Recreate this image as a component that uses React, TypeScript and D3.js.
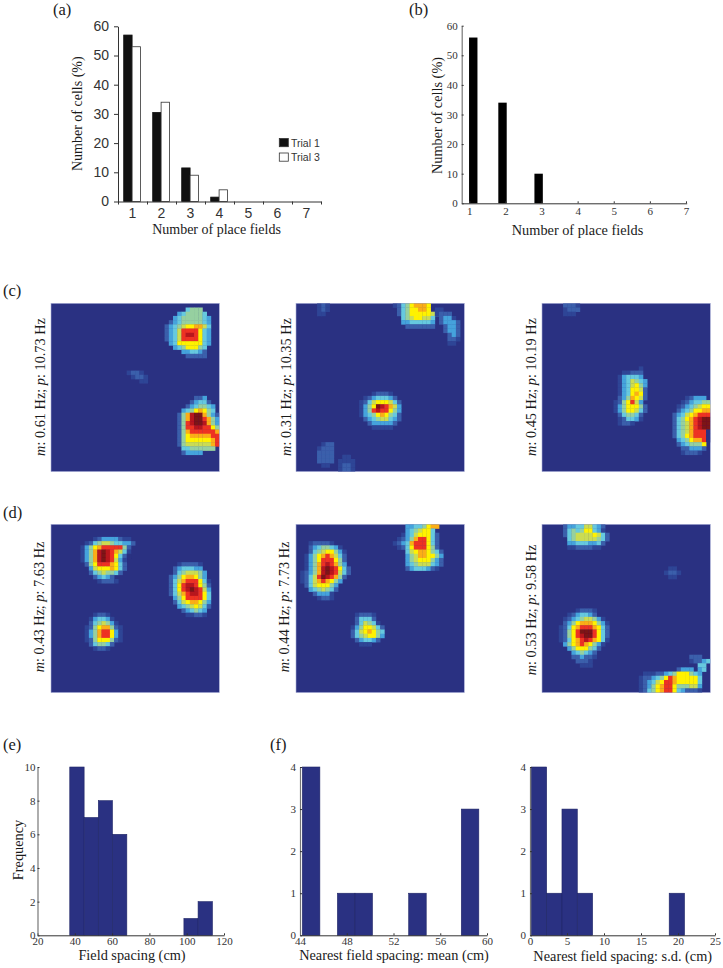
import { useEffect, useRef } from 'react';
import * as d3 from 'd3';

const SERIF = '"Liberation Serif", serif';
const SANS = '"Liberation Sans", sans-serif';
const NAVY = '#2a3182';

// (a) / (b)
const fieldCounts = ['1', '2', '3', '4', '5', '6', '7'];
const trial1 = [57, 30.5, 11.5, 1.5, 0, 0, 0];
const trial3 = [53, 34, 9, 4, 0, 0, 0];
const panelBPositions = [1.11, 1.92, 2.92];
const panelBValues = [56, 34, 10];

// (e) / (f) histograms: lower bin edges and counts
const spacingEdges = [37.3, 45, 52.6, 60.2, 67.9, 75.5, 83.2, 90.9, 98.5, 106.1, 113.8];
const spacingCounts = [10, 7, 8, 6, 0, 0, 0, 0, 1, 2];
const meanEdges = [44.2, 45.7, 47.2, 48.7, 50.2, 51.8, 53.3, 54.8, 56.3, 57.8, 59.3];
const meanCounts = [4, 0, 1, 1, 0, 0, 1, 0, 0, 3];
const sdEdges = [0.18, 2.25, 4.32, 6.39, 8.46, 10.53, 12.6, 14.67, 16.74, 18.81, 20.88];
const sdCounts = [4, 1, 3, 1, 0, 0, 0, 0, 0, 1];

// rate maps: [row, first column, one colour level per cell], 40 x 40 grid
type Run = [number, number, string];
const levels = '0123456789ab'.split('');
const levelColors = ['#2a3182', '#2f4596', '#3a5fab', '#45a3dc', '#66c9df', '#96d0a0', '#cbdc52', '#fff200', '#fbae17', '#ee3124', '#b8141c', '#7c1216'];

const mapC1: Run[] = [
  [1, 32, '4555'], [2, 30, '3455554'], [3, 29, '345555543'], [4, 28, '2345555543'],
  [5, 27, '23456778864'], [6, 27, '23469999743'], [7, 27, '23469aa9743'], [8, 27, '23469999743'],
  [9, 28, '3477777743'], [10, 29, '34577754'], [11, 31, '334432'], [12, 32, '22222'],
  [16, 18, '1221'], [17, 19, '1221'], [18, 21, '11'],
  [22, 34, '223'], [23, 33, '23442'], [24, 32, '2345543'], [25, 31, '34578754'],
  [26, 30, '258abb8532'], [27, 30, '258abb9853'], [28, 30, '259abba853'], [29, 30, '2599aa9975'],
  [30, 30, '2589999998'], [31, 30, '2578888899'], [32, 30, '2577777789'], [33, 30, '2566666689'],
  [34, 31, '44555555'], [35, 31, '23333'],
];
const mapC2: Run[] = [
  [0, 5, '121'], [1, 5, '121'], [2, 5, '11'],
  [0, 23, '124578887'], [1, 24, '24577887'], [2, 24, '2457777764'], [3, 25, '45677664'], [4, 25, '33444443'], [5, 26, '2222222'],
  [1, 33, '11'], [2, 33, '1222'], [3, 34, '2331'], [4, 34, '23332'], [5, 35, '2332'], [6, 35, '2332'], [7, 36, '232'], [8, 36, '221'], [9, 36, '11'],
  [21, 18, '12221'], [22, 16, '12344432'], [23, 15, '1246777642'], [24, 15, '1357ba9863'], [25, 15, '1359a99753'],
  [26, 15, '1345787542'], [27, 16, '234566432'], [28, 17, '2333332'], [29, 18, '11111'],
  [33, 6, '122'], [34, 5, '1222'], [35, 5, '2222'], [36, 5, '2222'], [37, 5, '2222'], [38, 6, '11'],
  [36, 11, '11'], [37, 10, '1111'], [38, 10, '1221'], [39, 10, '1221'],
];
const mapC3: Run[] = [
  [0, 5, '2221'], [1, 5, '1222'], [2, 5, '111'],
  [15, 23, '1'], [16, 19, '11222'], [17, 18, '134443'], [18, 18, '1346543'], [19, 18, '1346753'], [20, 18, '1347762'],
  [21, 18, '1347872'], [22, 18, '2358762'], [23, 17, '1257963'], [24, 17, '13577752'], [25, 17, '13577642'],
  [26, 18, '245542'], [27, 18, '124431'], [28, 18, '1221'],
  [22, 34, '12333'], [23, 33, '1234455'], [24, 32, '12345677'], [25, 32, '23457788'],
  [26, 31, '234678999'], [27, 31, '245789abb'], [28, 31, '245689abb'], [29, 31, '245689abb'],
  [30, 31, '245689990'], [31, 31, '245789990'], [32, 32, '34578890'], [33, 32, '2345557'], [34, 33, '223332'], [35, 33, '12221'],
];
const mapD1: Run[] = [
  [3, 10, '123333211'], [4, 8, '124566544332'], [5, 7, '135789999952'], [6, 7, '1358aba98641'], [7, 7, '1358aba97420'],
  [8, 7, '1358aba9631'], [9, 8, '2579998742'], [10, 9, '367778742'], [11, 9, '24565542'], [12, 10, '23432'], [13, 11, '12221'],
  [9, 30, '122221'], [10, 29, '2344433'], [11, 29, '24566653'], [12, 28, '235788753'], [13, 28, '2468999741'],
  [14, 28, '2479aa9752'], [15, 28, '2479aba963'], [16, 28, '24689aa974'], [17, 29, '357999974'], [18, 29, '246788753'],
  [19, 30, '34567642'], [20, 31, '234543'], [21, 32, '11221'],
  [21, 10, '1221'], [22, 9, '134431'], [23, 9, '2456531'], [24, 8, '125788521'], [25, 8, '135899731'], [26, 8, '135899731'],
  [27, 8, '125777521'], [28, 9, '245542'], [29, 10, '1221'],
];
const mapD2: Run[] = [
  [4, 3, '122221'], [5, 3, '23455431'], [6, 3, '245677531'], [7, 2, '1357898642'], [8, 2, '1357999752'], [9, 2, '13589a9853'],
  [10, 2, '1358aba9742'], [11, 1, '12358aba9642'], [12, 1, '12469ba9852'], [13, 1, '1246898753'], [14, 2, '24677753'],
  [15, 3, '3456542'], [16, 4, '23331'], [17, 5, '1221'],
  [0, 26, '33445788'], [1, 26, '3456774'], [2, 25, '134677742'], [3, 24, '1235899742'], [4, 23, '12348999742'],
  [5, 24, '1247999752'], [6, 26, '467887542'], [7, 26, '356887753'], [8, 26, '356777532'], [9, 26, '345666432'], [10, 26, '23444321'],
  [21, 14, '12221'], [22, 14, '24442'], [23, 14, '246541'], [24, 13, '13577642'], [25, 13, '24678754'], [26, 13, '24567753'],
  [27, 14, '234432'], [28, 15, '111'],
];
const mapD3: Run[] = [
  [0, 5, '2334466432'], [1, 5, '2454577431'], [2, 5, '24566667642'], [3, 6, '4566666542'], [4, 6, '334443342'], [5, 6, '11222211'],
  [10, 30, '11'], [11, 29, '1221'], [12, 30, '11'],
  [20, 8, '12221'], [21, 6, '1234432'], [22, 5, '1234566531'], [23, 5, '23578887531'], [24, 4, '124789998742'],
  [25, 4, '12579bbb9742'], [26, 4, '12579abb9742'], [27, 4, '124789a98741'], [28, 5, '3578987531'], [29, 6, '35777542'],
  [30, 7, '345432'], [31, 7, '223221'], [32, 8, '2221'], [33, 9, '111'],
  [31, 35, '222'], [32, 35, '122342'], [33, 37, '44'], [34, 32, '2333'], [34, 37, '34'],
  [35, 24, '11122345777543'], [36, 23, '122345798777774'], [37, 23, '123467998777774'], [38, 23, '123578997555663'], [39, 23, '124578997432221'],
];

const mapGrid = d3.range(40);

interface MapPanel {
  id: string;
  runs: Run[];
  left: number;
  top: number;
  labelX: number;
  labelY: number;
  m: string;
  p: string;
}

const mapPanels: MapPanel[] = [
  { id: 'c1', runs: mapC1, left: 51, top: 303.3, labelX: 44.5, labelY: 387, m: '0.61', p: '10.73' },
  { id: 'c2', runs: mapC2, left: 296, top: 303.3, labelX: 290.7, labelY: 387, m: '0.31', p: '10.35' },
  { id: 'c3', runs: mapC3, left: 542, top: 303.3, labelX: 535.7, labelY: 387, m: '0.45', p: '10.19' },
  { id: 'd1', runs: mapD1, left: 51, top: 524.3, labelX: 44, labelY: 607, m: '0.43', p: '7.63' },
  { id: 'd2', runs: mapD2, left: 296, top: 524.3, labelX: 289, labelY: 607, m: '0.44', p: '7.73' },
  { id: 'd3', runs: mapD3, left: 542, top: 524.3, labelX: 535.7, labelY: 610, m: '0.53', p: '9.58' },
];

const panelLetters: [string, number, number][] = [
  ['(a)', 53, 15], ['(b)', 409, 15], ['(c)', 3, 296], ['(d)', 3, 517.5], ['(e)', 3, 750], ['(f)', 270, 750],
];

type Svg = d3.Selection<SVGSVGElement, unknown, null, undefined>;

function addText(svg: Svg, str: string, x: number, y: number, size: number, anchor = 'middle', rotate = false) {
  return svg.append('text')
    .attr('transform', `translate(${x},${y})${rotate ? ' rotate(-90)' : ''}`)
    .attr('text-anchor', anchor)
    .attr('font-family', SERIF)
    .attr('font-size', size)
    .attr('fill', '#1a1a1a')
    .text(str);
}

function styleAxis(g: d3.Selection<SVGGElement, unknown, null, undefined>, font: string, size: number, color: string, width: number) {
  g.selectAll('text').attr('font-family', font).attr('font-size', size).attr('fill', color);
  g.selectAll('path,line').attr('stroke', color).attr('stroke-width', width);
}

// serif axes shared by (b), (e) and (f)
function drawSerifAxes(svg: Svg, x: d3.ScaleLinear<number, number>, y: d3.ScaleLinear<number, number>, xTicks: number[], yTicks: number[], xPad: number, yPad: number) {
  const y0 = y(0);
  const axisX = svg.append('g')
    .attr('transform', `translate(0,${y0})`)
    .call(d3.axisBottom(x).tickValues(xTicks).tickSize(-2).tickSizeOuter(0).tickPadding(xPad).tickFormat(d3.format('d')));
  styleAxis(axisX, SERIF, 11, '#333', 1);
  const axisY = svg.append('g')
    .attr('transform', `translate(${x.range()[0]},0)`)
    .call(d3.axisLeft(y).tickValues(yTicks).tickSize(-2).tickSizeOuter(0).tickPadding(yPad).tickFormat(d3.format('d')));
  styleAxis(axisY, SERIF, 11, '#333', 1);
  axisY.select('path').attr('stroke', '#777').attr('stroke-width', 1.2);
}

function drawHistogram(svg: Svg, edges: number[], counts: number[], x: d3.ScaleLinear<number, number>, y: d3.ScaleLinear<number, number>) {
  svg.append('g')
    .selectAll('rect')
    .data(counts.map((count, i) => ({ count, x0: edges[i], x1: edges[i + 1] })).filter(d => d.count > 0))
    .enter()
    .append('rect')
    .attr('x', d => x(d.x0))
    .attr('y', d => y(d.count))
    .attr('width', d => x(d.x1) - x(d.x0))
    .attr('height', d => y(0) - y(d.count))
    .attr('fill', NAVY)
    .attr('stroke', '#1f2566')
    .attr('stroke-width', 0.6);
}

function drawMap(svg: Svg, panel: MapPanel) {
  const size = 168.3;
  const col = d3.scaleBand<number>().domain(mapGrid).range([panel.left, panel.left + size]);
  const row = d3.scaleBand<number>().domain(mapGrid).range([panel.top, panel.top + size]);
  const color = d3.scaleOrdinal<string, string>().domain(levels).range(levelColors);

  svg.append('clipPath')
    .attr('id', `clip-${panel.id}`)
    .append('rect')
    .attr('x', panel.left)
    .attr('y', panel.top)
    .attr('width', size)
    .attr('height', size);

  svg.append('rect')
    .attr('x', panel.left)
    .attr('y', panel.top)
    .attr('width', size)
    .attr('height', size)
    .attr('fill', levelColors[0])
    .attr('stroke', '#aab0d8')
    .attr('stroke-width', 0.6);

  const cells = panel.runs.flatMap(([r, c, str]) =>
    str.split('').map((level, i) => ({ r, c: c + i, level })));

  // the reference is a slightly soft scan, so the cells get a small blur
  svg.append('g')
    .attr('clip-path', `url(#clip-${panel.id})`)
    .append('g')
    .attr('filter', 'url(#soft)')
    .selectAll('rect')
    .data(cells.filter(d => d.c < 40))
    .enter()
    .append('rect')
    .attr('x', d => col(d.c) as number)
    .attr('y', d => row(d.r) as number)
    .attr('width', col.bandwidth() + 0.3)
    .attr('height', row.bandwidth() + 0.3)
    .attr('fill', d => color(d.level));

  const label = addText(svg, '', panel.labelX, panel.labelY, 14.3, 'middle', true);
  label.append('tspan').attr('font-style', 'italic').text('m');
  label.append('tspan').text(`: ${panel.m} Hz; `);
  label.append('tspan').attr('font-style', 'italic').text('p');
  label.append('tspan').text(`: ${panel.p} Hz`);
}

export default function App() {
  const ref = useRef<SVGSVGElement>(null);

  useEffect(() => {
    if (!ref.current) return;
    const svg = d3.select(ref.current) as unknown as Svg;
    svg.selectAll('*').remove();

    svg.append('filter')
      .attr('id', 'soft')
      .attr('filterUnits', 'userSpaceOnUse')
      .attr('x', 0).attr('y', 0).attr('width', 723).attr('height', 968)
      .append('feGaussianBlur')
      .attr('stdDeviation', 0.7);

    panelLetters.forEach(([str, x, y]) => addText(svg, str, x, y, 16.5, 'start'));

    // Panel (a)
    const ax = d3.scaleBand<string>().domain(fieldCounts).range([118, 321]);
    const ay = d3.scaleLinear().domain([0, 60]).range([201.5, 26.3]);
    const series = d3.scaleBand<string>().domain(['Trial 1', 'Trial 3']).range([5.7, 22.5]);
    const drawBars = (values: number[], name: string, fill: string) => {
      svg.append('g')
        .selectAll('rect')
        .data(values.map((v, i) => ({ v, cat: fieldCounts[i] })).filter(d => d.v > 0))
        .enter()
        .append('rect')
        .attr('x', d => (ax(d.cat) as number) + (series(name) as number))
        .attr('y', d => ay(d.v))
        .attr('width', series.bandwidth())
        .attr('height', d => ay(0) - ay(d.v))
        .attr('fill', fill)
        .attr('stroke', fill === '#fff' ? '#333' : '#111')
        .attr('stroke-width', 0.8);
    };
    drawBars(trial1, 'Trial 1', '#111');
    drawBars(trial3, 'Trial 3', '#fff');

    const axLabels = svg.append('g')
      .attr('transform', `translate(0,${ay(0)})`)
      .call(d3.axisBottom(ax).tickSize(0).tickPadding(7));
    styleAxis(axLabels, SANS, 14, '#333', 1);
    axLabels.select('path').remove();
    const axEdges = d3.scaleLinear().domain([0, 7]).range(ax.range() as [number, number]);
    const axTicks = svg.append('g')
      .attr('transform', `translate(0,${ay(0)})`)
      .call(d3.axisBottom(axEdges).ticks(7).tickSize(3).tickSizeOuter(0).tickFormat(() => ''));
    styleAxis(axTicks, SANS, 14, '#333', 1);
    const ayAxis = svg.append('g')
      .attr('transform', `translate(${ax.range()[0]},0)`)
      .call(d3.axisLeft(ay).ticks(6).tickSize(4).tickSizeOuter(0).tickPadding(5));
    styleAxis(ayAxis, SANS, 14, '#333', 1);

    addText(svg, 'Number of cells (%)', 82, 113.7, 14, 'middle', true);
    addText(svg, 'Number of place fields', 216.5, 234, 14);

    [['Trial 1', '#111', 138.5, 146.7], ['Trial 3', '#fff', 153, 161]].forEach(([name, fill, top, base]) => {
      svg.append('rect').attr('x', 279.3).attr('y', top as number).attr('width', 9).attr('height', 8.2)
        .attr('fill', fill as string).attr('stroke', '#333').attr('stroke-width', 0.8);
      svg.append('text').attr('x', 291).attr('y', base as number).attr('font-family', SANS)
        .attr('font-size', 10.5).attr('fill', '#333').text(name as string);
    });

    // Panel (b)
    const bx = d3.scaleLinear().domain([0.79, 7.02]).range([461.7, 686.7]);
    const by = d3.scaleLinear().domain([0, 60]).range([203.3, 25.7]);
    const barX = d3.scaleLinear().domain([-0.5, 0.5]).range([-4.2, 4.2]);
    svg.append('g')
      .selectAll('rect')
      .data(panelBValues.map((v, i) => ({ v, pos: panelBPositions[i] })))
      .enter()
      .append('rect')
      .attr('x', d => bx(d.pos) + barX(-0.5))
      .attr('y', d => by(d.v))
      .attr('width', barX(0.5) - barX(-0.5))
      .attr('height', d => by(0) - by(d.v))
      .attr('fill', '#000');
    drawSerifAxes(svg, bx, by, fieldCounts.map(Number), d3.range(0, 61, 10), 4, 4);
    addText(svg, 'Number of cells (%)', 441.7, 115.5, 14.3, 'middle', true);
    addText(svg, 'Number of place fields', 577.5, 235, 14.3);

    // Panels (c) and (d)
    mapPanels.forEach(panel => drawMap(svg, panel));

    // Panel (e)
    const histTop = 767;
    const histBottom = 935.3;
    const ex = d3.scaleLinear().domain([20, 120]).range([37.5, 224]);
    const ey = d3.scaleLinear().domain([0, 10]).range([histBottom, histTop]);
    drawHistogram(svg, spacingEdges, spacingCounts, ex, ey);
    drawSerifAxes(svg, ex, ey, d3.range(20, 121, 20), d3.range(0, 11, 2), 2, 2);
    addText(svg, 'Frequency', 23, 850, 14.3, 'middle', true);
    addText(svg, 'Field spacing (cm)', 132, 960, 14.3);

    // Panel (f)
    const mx = d3.scaleLinear().domain([44, 60]).range([300, 487]);
    const fy = d3.scaleLinear().domain([0, 4]).range([histBottom, histTop]);
    drawHistogram(svg, meanEdges, meanCounts, mx, fy);
    drawSerifAxes(svg, mx, fy, d3.range(44, 61, 4), d3.range(0, 5), 2, 4);
    addText(svg, 'Nearest field spacing: mean (cm)', 394, 960, 14.3);

    const sx = d3.scaleLinear().domain([0, 25]).range([530, 715]);
    drawHistogram(svg, sdEdges, sdCounts, sx, fy);
    drawSerifAxes(svg, sx, fy, d3.range(0, 26, 5), d3.range(0, 5), 2, 4);
    addText(svg, 'Nearest field spacing: s.d. (cm)', 622.7, 961, 14.3);
  }, []);

  return <svg ref={ref} width={723} height={968} style={{ position: 'absolute', left: 0, top: 0, background: '#fff' }} />;
}
